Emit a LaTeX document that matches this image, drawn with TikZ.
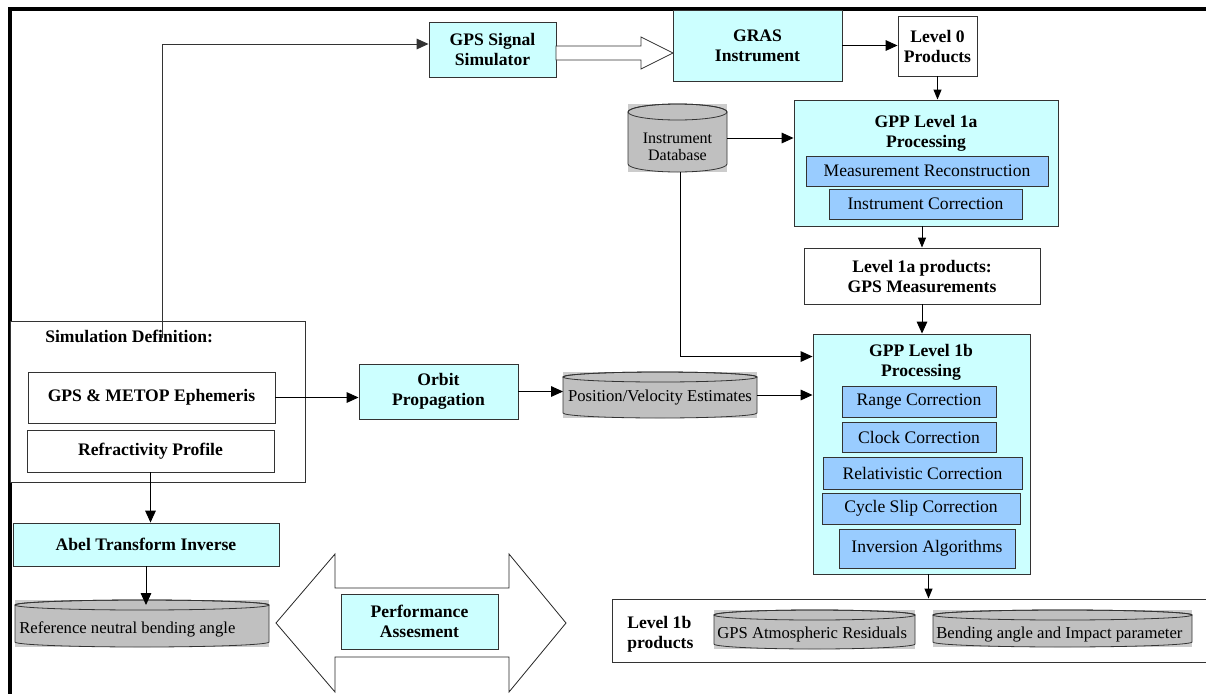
\documentclass[tikz,border=0pt]{standalone}
\usepackage{fontspec}
\setmainfont{Liberation Serif}
\usetikzlibrary{arrows.meta,calc}
\definecolor{cyanf}{HTML}{CCFFFF}
\definecolor{bluef}{HTML}{99CCFF}
\definecolor{cylbgc}{HTML}{CCCCCC}
\definecolor{cylf}{HTML}{C0C0C0}
\definecolor{edge}{HTML}{333333}
\newcommand\fs{\fontsize{13.2}{15}\selectfont}
\newcommand\fsc{\fontsize{12.5}{13}\selectfont}
% box node: style, x1, y1, x2, y2, name  (text follows)
\newcommand\bxat[6]{\node[#1, minimum width={(#4-#2)*0.75pt}, minimum height={(#5-#3)*0.75pt}] (#6) at ({(#2+#4)/2},{(#3+#5)/2})}
\newcommand\dbcyl[5]{%
  \fill[cylbgc] (#1,#2) rectangle (#3,#4);
  \filldraw[fill=cylf,draw=edge,line width=0.6pt] (#1,#2+#5) -- (#1,#4-#5)
    arc[start angle=180,end angle=0,x radius={(#3-#1)/2},y radius=#5]
    -- (#3,#2+#5)
    arc[start angle=0,end angle=-180,x radius={(#3-#1)/2},y radius=#5] -- cycle;
  \draw[draw=edge,line width=0.6pt] ({(#1+#3)/2},#2+#5) ellipse[x radius={(#3-#1)/2},y radius=#5];
}
\tikzset{
  bx/.style={draw=edge, line width=0.7pt, inner sep=0pt, align=center, font=\fs},
  cbx/.style={bx, fill=cyanf},
  wbx/.style={bx, fill=white},
  sbx/.style={bx, fill=bluef},
  hd/.style={font=\fs\bfseries},
  txt/.style={inner sep=0pt, align=center, font=\fs},
  ctxt/.style={inner sep=0pt, align=center, font=\fsc},
  anchorbox/.style={inner sep=0pt, outer sep=0pt, draw=none},
  arr/.style={draw=black, line width=0.75pt, -{Triangle[length=9pt,width=8pt]}},
  sarr/.style={draw=black, line width=0.75pt, -{Triangle[length=7.5pt,width=6pt]}},
  framel/.style={line width=2.3pt},
}
\begin{document}
\begin{tikzpicture}[x=0.75pt,y=0.75pt,yscale=-1]
\useasboundingbox (0,0) rectangle (1206,693);
\fill[white] (0,0) rectangle (1206,693);

% outer frame (top and left sides visible)
\draw[framel] (1207,9) -- (10,9) -- (10,694);

% top row
\bxat{cbx,hd}{429}{22}{556}{77}{gps} {GPS Signal\\Simulator};
\bxat{cbx,hd}{673}{10}{842}{81}{gras} {GRAS\\Instrument};
\bxat{wbx,hd}{898}{16}{977}{76}{l0} {Level 0\\Products};
% hollow arrow
\draw[draw=edge, fill=white, line width=0.6pt] (556,46) -- (641,46) -- (641,37) -- (673,53) -- (641,69) -- (641,60) -- (556,60) -- cycle;

% GPP Level 1a
\bxat{cbx}{794}{100}{1058}{226}{g1a} {};
\node[txt, hd] (g1at) at (926,133) {GPP Level 1a\\Processing};
\bxat{sbx}{806}{156}{1048}{186}{mr} {Measurement Reconstruction};
\bxat{sbx}{829}{189}{1022}{219}{ic} {Instrument Correction};

% instrument database
\dbcyl{628}{104}{727}{172}{8}
\bxat{anchorbox}{628}{104}{727}{172}{idb} {};
\node[ctxt, font=\fontsize{12}{13}\selectfont] (idbt) at (677.5,147) {Instrument\\Database};

% Level 1a products
\bxat{wbx,hd}{804}{248}{1040}{304}{l1a} {Level 1a products:\\GPS Measurements};

% GPP Level 1b
\bxat{cbx}{813}{334}{1030}{574}{g1b} {};
\node[txt, hd] (g1bt) at (921,362) {GPP Level 1b\\Processing};
\bxat{sbx}{842}{386}{996}{417}{rc} {Range Correction};
\bxat{sbx}{842}{422}{996}{452}{cc} {Clock Correction};
\bxat{sbx}{823}{457}{1022}{489}{rel} {Relativistic Correction};
\bxat{sbx}{822}{493}{1020}{524}{cs} {Cycle Slip Correction};
\bxat{sbx}{839}{529}{1015}{568}{inv} {Inversion Algorithms};

% Level 1b products
\bxat{wbx}{612}{599}{1216}{662}{l1b} {};
\node[txt, hd, align=left, anchor=west] (l1bt) at (627,634) {Level 1b\\products};
\dbcyl{714}{610}{915}{649}{5}
\bxat{anchorbox}{714}{610}{915}{649}{gatm} {};
\node[ctxt, anchor=base west] (gatmt) at (717,638) {GPS Atmospheric Residuals};
\dbcyl{933}{610}{1192}{647}{5}
\bxat{anchorbox}{933}{610}{1192}{647}{bend} {};
\node[ctxt, anchor=base west] (bendt) at (936,638) {Bending angle and Impact parameter};

% Simulation definition
\bxat{wbx}{10}{321}{305}{482}{sim} {};
\node[txt, hd, anchor=base west] (simt) at (45,342) {Simulation Definition:};
\bxat{wbx,hd}{28}{372}{275}{423}{eph} {GPS \& METOP Ephemeris};
\bxat{wbx,hd}{27}{430}{274}{472}{refr} {Refractivity Profile};

% orbit + position
\bxat{cbx,hd}{359}{364}{518}{419}{orb} {Orbit\\Propagation};
\dbcyl{563}{372}{757}{418}{5}
\bxat{anchorbox}{563}{372}{757}{418}{pos} {};
\node[ctxt] (post) at (660,398) {Position/Velocity Estimates};

% Abel + reference
\bxat{cbx,hd}{13}{523}{279}{566}{abel} {Abel Transform Inverse};
\dbcyl{15}{600}{269}{647}{5}
\bxat{anchorbox}{15}{600}{269}{647}{refc} {};
\node[ctxt, anchor=base west] (refct) at (19,633) {Reference neutral bending angle};

% performance assessment
\draw[draw=black!85, fill=white, line width=0.6pt] (276,623) -- (335,554) -- (335,588) -- (509,588) -- (509,554) -- (566,623) -- (509,692) -- (509,657) -- (335,657) -- (335,692) -- cycle;
\bxat{cbx,hd}{341}{594}{498}{649}{perf} {Performance\\Assesment};

% connectors
\coordinate (fb1) at (162,338);
\coordinate (fb2) at (162,44);
\draw[arr, draw=black!80] (fb1) -- (fb2) -- (fb2 -| gps.west);
\draw[arr] (gras.east) -- (gras.east -| l0.west);
\draw[sarr] (l0.south) -- (l0.south |- g1a.north);
\draw[arr] (idb.east) -- (idb.east -| g1a.west);
\draw[sarr] (l1a.north |- g1a.south) -- (l1a.north);
\draw[arr] (l1a.south) -- (l1a.south |- g1b.north);
\draw[arr] ($(idb.south)+(3,0)$) |- ($(g1b.north west)+(0,23)$);
\draw[arr] (eph.east) -- (eph.east -| orb.west);
\draw[arr] (orb.east) -- (orb.east -| pos.west);
\draw[arr] (pos.east) -- (pos.east -| g1b.west);
\coordinate (g1bs) at ($(g1b.south)+(7,0)$);
\draw[sarr] (g1bs) -- (g1bs |- l1b.north);
\draw[arr] (refr.south) -- (refr.south |- abel.north);
\draw[arr] (abel.south) -- ($(abel.south |- refc.north)+(0,5)$);
\end{tikzpicture}
\end{document}
